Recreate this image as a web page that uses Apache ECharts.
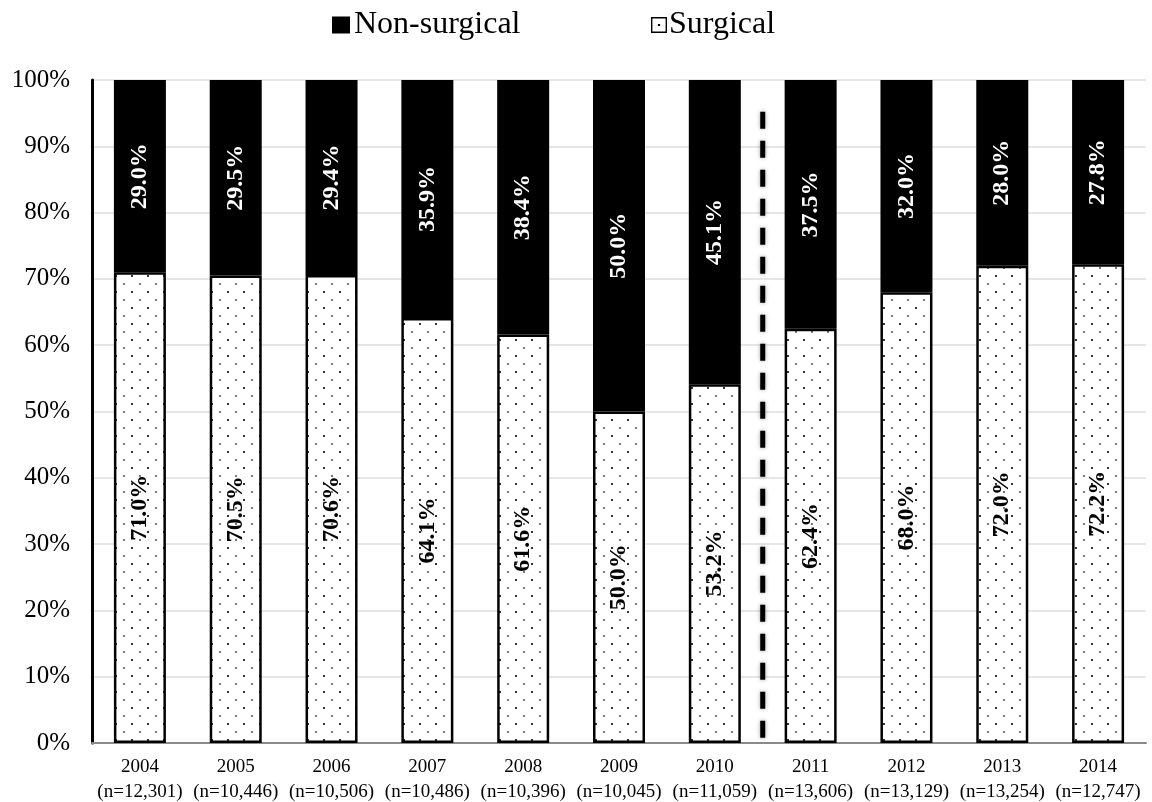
<!DOCTYPE html>
<html>
<head>
<meta charset="utf-8">
<title>Surgical vs non-surgical share by year</title>
<script src="https://cdn.jsdelivr.net/npm/echarts@6.0.0/dist/echarts.min.js"></script>
<style>
  html, body { margin: 0; padding: 0; background: #fff; }
  #chart { width: 1152px; height: 802px; }
</style>
</head>
<body>
<div id="chart"></div>
<script>
// Years and sample sizes shown under each bar
const years = ['2004', '2005', '2006', '2007', '2008', '2009', '2010', '2011', '2012', '2013', '2014'];
const sampleSizes = ['12,301', '10,446', '10,506', '10,486', '10,396', '10,045', '11,059', '13,606', '13,129', '13,254', '12,747'];

// Percent of cases per year
const surgical    = [71.0, 70.5, 70.6, 64.1, 61.6, 50.0, 53.2, 62.4, 68.0, 72.0, 72.2];
const nonSurgical = [29.0, 29.5, 29.4, 35.9, 38.4, 50.0, 45.1, 37.5, 32.0, 28.0, 27.8];

// Year after which the divider is drawn (between 2010 and 2011)
const dividerAfter = '2010';
const dividerTop = 95.2;

const yTicks = { min: 0, max: 100, step: 10 };

// 100% stacked: each bar is scaled to its own total
const totals = surgical.map((s, i) => s + nonSurgical[i]);
const surgicalShare = surgical.map((s, i) => s / totals[i] * 100);
const nonSurgicalShare = nonSurgical.map((n, i) => n / totals[i] * 100);

const serif = "'Liberation Serif', 'Times New Roman', serif";

// Dotted fill for the surgical segments
function dotPattern() {
  const c = document.createElement('canvas');
  c.width = 16; c.height = 16;
  const g = c.getContext('2d');
  g.fillStyle = '#fff';
  g.fillRect(0, 0, 16, 16);
  g.fillStyle = '#333';
  g.fillRect(3, 3, 2, 2);
  g.fillStyle = '#777';
  g.fillRect(11, 11, 2, 2);
  return c;
}

const chart = echarts.init(document.getElementById('chart'), null, { renderer: 'canvas' });
const dividerX = years.indexOf(dividerAfter) + 0.5;

const option = {
  animation: false,
  backgroundColor: '#fff',
  textStyle: { fontFamily: serif },
  legend: [
    {
      data: [{ name: 'Non-surgical', icon: 'rect', itemStyle: { color: '#000', borderWidth: 0 } }],
      left: 332, top: 9, padding: 0,
      itemWidth: 18, itemHeight: 17, itemGap: 0,
      selectedMode: false,
      textStyle: { fontFamily: serif, fontSize: 32, color: '#000', padding: [0, 0, 0, -1] }
    },
    {
      data: [{
        name: 'Surgical',
        icon: 'path://M0,0L16,0L16,16L0,16Z M1.4,1.4L1.4,14.6L14.6,14.6L14.6,1.4Z M6.9,6.9L9.1,6.9L9.1,9.1L6.9,9.1Z',
        itemStyle: { color: '#000', borderWidth: 0 }
      }],
      left: 651, top: 9, padding: 0,
      itemWidth: 16, itemHeight: 16, itemGap: 0,
      selectedMode: false,
      textStyle: { fontFamily: serif, fontSize: 32, color: '#000', padding: [0, 0, 0, -3] }
    }
  ],
  grid: { left: 92, right: 6, top: 80, bottom: 59, containLabel: false, outerBoundsMode: 'none' },
  xAxis: [
    {
      type: 'category',
      data: years,
      axisLine: { show: true, lineStyle: { color: '#8a8a8a', width: 2 } },
      axisTick: { show: false },
      axisLabel: {
        interval: 0,
        margin: 12,
        fontFamily: serif,
        fontSize: 19,
        lineHeight: 25,
        color: '#000',
        formatter: (v, i) => v + '\n(n=' + sampleSizes[i] + ')'
      }
    },
    {
      type: 'value',
      min: -0.5,
      max: years.length - 0.5,
      show: false
    }
  ],
  yAxis: {
    type: 'value',
    min: yTicks.min,
    max: yTicks.max,
    interval: yTicks.step,
    axisLine: { show: true, onZero: false, lineStyle: { color: '#000', width: 3 } },
    axisTick: { show: false },
    axisLabel: {
      margin: 22,
      fontFamily: serif,
      fontSize: 25,
      color: '#000',
      formatter: '{value}%'
    },
    splitLine: { show: true, lineStyle: { color: '#e6e6e6', width: 2 } }
  },
  series: [
    {
      name: 'Surgical',
      type: 'bar',
      stack: 'share',
      barWidth: 52,
      data: surgicalShare,
      itemStyle: {
        color: { image: dotPattern(), repeat: 'repeat' },
        borderColor: '#000',
        borderWidth: 2.5
      },
      label: {
        show: true,
        position: 'inside',
        rotate: 90,
        fontFamily: serif,
        fontWeight: 'bold',
        fontSize: 24,
        color: '#000',
        formatter: p => surgical[p.dataIndex].toFixed(1) + '%'
      },
      z: 2
    },
    {
      name: 'Non-surgical',
      type: 'bar',
      stack: 'share',
      barWidth: 52,
      data: nonSurgicalShare,
      itemStyle: { color: '#000', borderWidth: 0 },
      label: {
        show: true,
        position: 'inside',
        rotate: 90,
        fontFamily: serif,
        fontWeight: 'bold',
        fontSize: 24,
        color: '#fff',
        formatter: p => nonSurgical[p.dataIndex].toFixed(1) + '%'
      },
      z: 2
    },
    {
      name: 'divider',
      type: 'line',
      xAxisIndex: 1,
      data: [[dividerX, dividerTop], [dividerX, 0]],
      symbol: 'none',
      clip: false,
      silent: true,
      lineStyle: {
        color: '#000',
        width: 5,
        type: [17, 12],
        cap: 'butt',
        shadowColor: 'rgba(0,0,0,0.35)',
        shadowBlur: 4
      },
      z: 5
    }
  ]
};

chart.setOption(option);
</script>
</body>
</html>
